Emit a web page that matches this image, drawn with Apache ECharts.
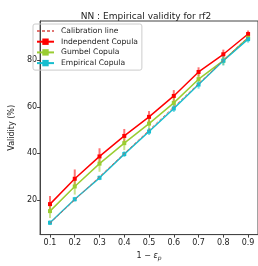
<!DOCTYPE html>
<html>
<head>
<meta charset="utf-8">
<script src="https://cdn.jsdelivr.net/npm/echarts@6/dist/echarts.min.js"></script>
<style>
    html, body { margin: 0; padding: 0; background: #fff; }
    #myChart { width: 258px; height: 266px; }
</style>
</head>
<body>
<div id="myChart"></div>
<script>
// 数据
var xValues = [0.1, 0.2, 0.3, 0.4, 0.5, 0.6, 0.7, 0.8, 0.9];
var calibration = [10, 20, 30, 40, 50, 60, 70, 80, 90];
var independent = [18.2, 29.1, 38.7, 47.5, 55.7, 64.7, 75.0, 82.6, 91.3];
var independentErr = [3.5, 4.0, 3.5, 3.0, 2.5, 2.5, 2.0, 2.0, 1.5];
var gumbel = [15.2, 25.8, 35.6, 44.4, 52.8, 61.7, 71.9, 79.9, 89.7];
var gumbelErr = [3.0, 3.5, 3.5, 3.0, 3.0, 2.5, 2.5, 2.0, 1.5];
var empirical = [10.2, 20.3, 29.5, 39.7, 49.4, 59.3, 69.6, 79.8, 89.1];
var empiricalErr = [1.0, 1.0, 1.0, 1.2, 1.5, 1.5, 1.8, 2.0, 1.5];
var xTicks = [0.1, 0.2, 0.3, 0.4, 0.5, 0.6, 0.7, 0.8, 0.9];
var yTicks = [20, 40, 60, 80];

var font = 'DejaVu Sans';

function pairs(ys) {
    return ys.map(function (y, i) { return [xValues[i], y]; });
}

// 误差线
function errSeries(ys, errs, color) {
    return {
        type: 'custom',
        silent: true,
        z: 1,
        data: ys.map(function (y, i) { return [xValues[i], y - errs[i], y + errs[i]]; }),
        renderItem: function (params, api) {
            var p0 = api.coord([api.value(0), api.value(1)]);
            var p1 = api.coord([api.value(0), api.value(2)]);
            return {
                type: 'line',
                shape: { x1: p0[0], y1: p0[1], x2: p1[0], y2: p1[1] },
                style: { stroke: color, lineWidth: 2, opacity: 0.55 }
            };
        }
    };
}

function lineSeries(name, ys, color) {
    return {
        name: name,
        type: 'line',
        data: pairs(ys),
        symbol: 'rect',
        symbolSize: 4,
        z: 3,
        lineStyle: { color: color, width: 1.5 },
        itemStyle: { color: color }
    };
}

var myChart = echarts.init(document.getElementById('myChart'), null, { renderer: 'canvas' });

var option = {
    animation: false,
    title: {
        text: 'NN : Empirical validity for rf2',
        left: 141,
        textAlign: 'center',
        top: 7,
        textStyle: { fontFamily: font, fontSize: 9, fontWeight: 'normal', color: '#222' }
    },
    legend: {
        orient: 'vertical',
        left: 33,
        top: 24,
        padding: [3, 4, 3, 3],
        itemGap: 2.7,
        itemWidth: 17,
        itemHeight: 8,
        borderColor: '#ccc',
        borderWidth: 1,
        borderRadius: 2,
        textStyle: { fontFamily: font, fontSize: 7.6, color: '#222', padding: [0, 0, 0, 2] },
        data: [
            { name: 'Calibration line', itemStyle: { opacity: 0 } },
            'Independent Copula', 'Gumbel Copula', 'Empirical Copula'
        ]
    },
    grid: {
        left: 32,
        right: 0,
        top: 21,
        bottom: 19,
        show: true,
        borderColor: '#444',
        borderWidth: 1
    },
    xAxis: {
        type: 'value',
        min: 0.06,
        max: 0.94,
        name: '{a|1 − }{e|ε}{s|p}',
        nameLocation: 'middle',
        nameGap: 13,
        nameTextStyle: {
            rich: {
                a: { fontFamily: font, fontSize: 8, color: '#222' },
                e: { fontFamily: font, fontSize: 8, color: '#222', fontStyle: 'italic' },
                s: { fontFamily: font, fontSize: 6, color: '#222', fontStyle: 'italic', padding: [5, 0, 0, 0] }
            }
        },
        splitLine: { show: false },
        axisLine: { onZero: false, lineStyle: { color: '#444', width: 1 } },
        axisTick: { length: 3, customValues: xTicks, lineStyle: { color: '#444' } },
        axisLabel: {
            customValues: xTicks,
            margin: 4,
            fontFamily: font,
            fontSize: 8,
            color: '#222',
            formatter: function (v) { return v.toFixed(1); }
        }
    },
    yAxis: {
        type: 'value',
        min: 5.1,
        max: 96.9,
        name: 'Validity (%)',
        nameLocation: 'middle',
        nameGap: 19,
        nameTextStyle: { fontFamily: font, fontSize: 8, color: '#222' },
        splitLine: { show: false },
        axisLine: { show: true, onZero: false, lineStyle: { color: '#444', width: 1 } },
        axisTick: { show: true, length: 3, customValues: yTicks, lineStyle: { color: '#444' } },
        axisLabel: {
            customValues: yTicks,
            margin: 3,
            fontFamily: font,
            fontSize: 8,
            color: '#222'
        }
    },
    series: [
        errSeries(independent, independentErr, '#ff0000'),
        errSeries(gumbel, gumbelErr, '#9acd32'),
        errSeries(empirical, empiricalErr, '#17becf'),
        lineSeries('Independent Copula', independent, '#ff0000'),
        lineSeries('Gumbel Copula', gumbel, '#9acd32'),
        lineSeries('Empirical Copula', empirical, '#17becf'),
        {
            name: 'Calibration line',
            type: 'line',
            data: pairs(calibration),
            symbol: 'none',
            z: 4,
            lineStyle: { color: '#d9534f', width: 1, type: [3, 2], opacity: 0.8 },
            itemStyle: { color: '#d9534f' }
        }
    ]
};
myChart.setOption(option);
window.onresize = myChart.resize;
</script>
</body>
</html>
